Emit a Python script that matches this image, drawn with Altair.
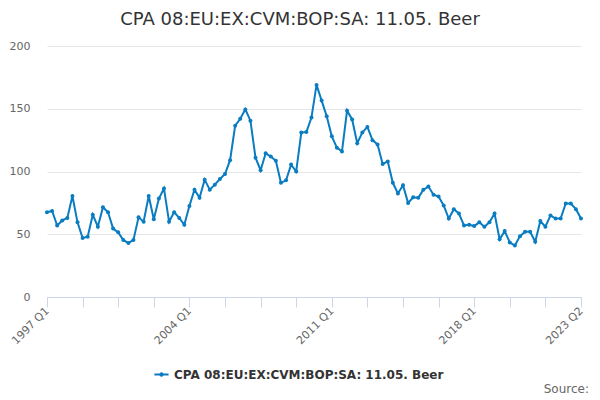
import altair as alt
import pandas as pd

start_year = 1997
values = [
    67.5, 68.5, 57, 61, 63, 80.5, 59.5, 47, 48, 65.5,
    56, 71.5, 67.5, 54.5, 51.5, 45.5, 43, 45.5, 63.5, 60,
    80.5, 62, 78.5, 86.5, 60, 67.5, 63, 57.5, 72.5, 85.5,
    79, 93.5, 85.5, 89.5, 94, 98, 109, 136.5, 142, 149.5,
    140.5, 111, 101, 114.5, 112, 108.5, 91, 93, 105.5, 100,
    131, 131.5, 143, 169, 156.5, 144, 128, 119, 116, 148.5,
    141.5, 122.5, 131, 135.5, 125, 121.5, 106, 108, 91, 82.5,
    89, 75, 79.5, 79, 85.5, 88, 81.5, 80, 73, 62.5,
    70, 66.5, 57, 57.5, 56.5, 59.5, 56, 59.5, 66.5, 46,
    52.5, 43.5, 41, 48.5, 52, 52, 44, 60.5, 56, 65,
    62.5, 62.5, 74.5, 74.5, 70, 62.5,
]
quarters = [f"{start_year + i // 4} Q{i % 4 + 1}" for i in range(len(values))]
tick_labels = ["1997 Q1", "2004 Q1", "2011 Q1", "2018 Q1", "2023 Q2"]
tick_quarters = quarters[::7]
if quarters[-1] not in tick_quarters:
    tick_quarters.append(quarters[-1])
y_ticks = [0, 50, 100, 150, 200]
series_name = "CPA 08:EU:EX:CVM:BOP:SA: 11.05. Beer"
title_text = "CPA 08:EU:EX:CVM:BOP:SA: 11.05. Beer"
source_text = "Source:"

df = pd.DataFrame({"quarter": quarters, "value": values, "series": series_name})

label_list = "[" + ",".join(f"'{t}'" for t in tick_labels) + "]"
label_expr = f"indexof({label_list}, datum.value) >= 0 ? datum.value : ''"

FONT = "DejaVu Sans"
COLOR = "#0a7cc1"

x = alt.X("quarter:O", sort=quarters,
          scale=alt.Scale(type="point", padding=0),
          axis=alt.Axis(values=tick_quarters, labelExpr=label_expr, title=None,
                        grid=False, domainColor="#ccd6eb", tickColor="#ccd6eb",
                        tickSize=10, labelAngle=315, labelAlign="right",
                        labelBaseline="middle", labelColor="#666666",
                        labelFontSize=11, labelFont=FONT, labelPadding=2,
                        labelOverlap=False, labelFlush=False))
y = alt.Y("value:Q",
          scale=alt.Scale(domain=[0, 200]),
          axis=alt.Axis(values=y_ticks, title=None, domain=False, ticks=False,
                        gridColor="#e6e6e6", labelColor="#666666",
                        labelFontSize=11, labelFont=FONT, labelPadding=17))

color = alt.Color("series:N", scale=alt.Scale(range=[COLOR]),
                  legend=alt.Legend(title=None, orient="none", legendX=106,
                                    legendY=320,
                                    symbolType="M -1 0 L 1 0 M 0.18 0 A 0.18 0.18 0 1 1 -0.18 0 A 0.18 0.18 0 1 1 0.18 0",
                                    symbolStrokeWidth=2, symbolSize=200,
                                    labelFont=FONT, labelFontSize=12,
                                    labelFontWeight="bold", labelColor="#333333",
                                    labelLimit=400))

base = alt.Chart(df)
line = base.mark_line(strokeWidth=2).encode(x=x, y=y, color=color)
pts = base.mark_point(filled=True, size=16, opacity=1).encode(
    x=alt.X("quarter:O", sort=quarters), y="value:Q",
    color=alt.Color("series:N", legend=None))

src = alt.Chart(pd.DataFrame({"t": [source_text]})).mark_text(
    align="right", baseline="middle", font=FONT, fontSize=12, color="#666666"
).encode(text="t:N", x=alt.value(542), y=alt.value(343))

chart = alt.layer(line, pts, src).properties(
    width=534, height=251,
    autosize=alt.AutoSizeParams(type="none"),
    padding={"left": 39, "top": 38, "right": 11, "bottom": 103},
    title=alt.TitleParams(title_text, font=FONT, fontSize=18, fontWeight="normal",
                          color="#333333", anchor="middle", dx=-14, offset=11),
).configure_view(stroke=None)

chart.save("out.html", embed_options={"renderer": "svg", "actions": False})
